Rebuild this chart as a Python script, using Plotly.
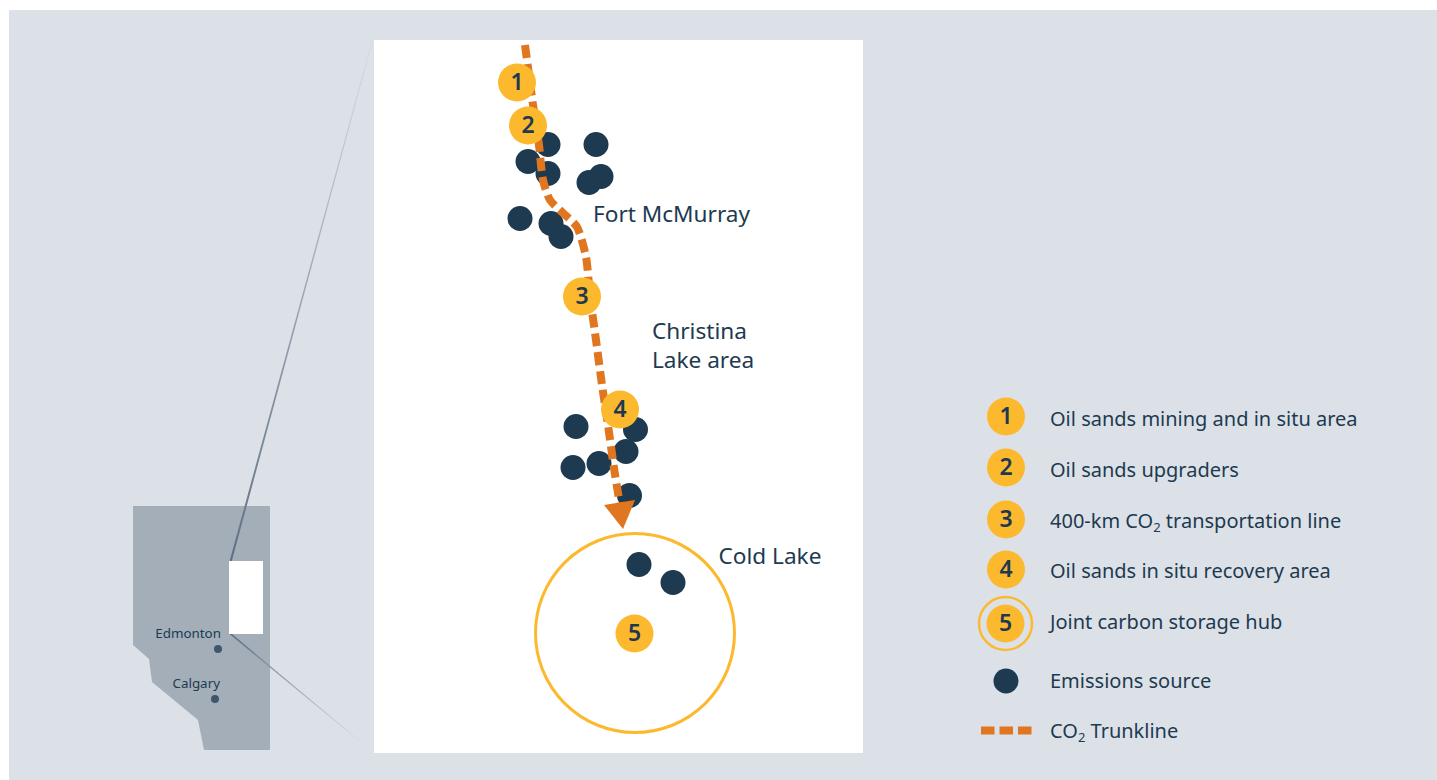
import plotly.graph_objects as go

INK = "#1d3a50"
AMBER = "#fdb92e"
ORANGE = "#e0761f"
BG = "#dce1e8"
MAPC = "#a3aeb9"

panel_x = [9, 1437, 1437, 9, 9]
panel_y = [10, 10, 780, 780, 10]
province_x = [133, 270, 270, 204, 198, 152, 149, 133, 133]
province_y = [506, 506, 750, 750, 720, 682, 659, 645, 506]
inset_x = [229, 263, 263, 229, 229]
inset_y = [561, 561, 634, 634, 561]
detail_x = [374, 863, 863, 374, 374]
detail_y = [40, 40, 753, 753, 40]
upper_conn_x = [229.6, 231.8, 373, 372, 229.6]
upper_conn_y = [561, 561, 40, 40, 561]
lower_conn_x = [229.5, 232, 366, 365, 229.5]
lower_conn_y = [634, 634, 746, 746, 634]

city_x = [218, 215]
city_y = [649, 699]
city_names = ["Edmonton", "Calgary"]
city_label_x = [221, 220]
city_label_y = [635, 685]

source_x = [548, 596, 528, 548, 601, 589, 520, 551, 561, 576, 635.5, 626, 599, 573, 629.5, 639, 673]
source_y = [144.5, 144.5, 161.5, 173.5, 176.5, 182.5, 218.5, 223.5, 236.5, 426.5, 429.5, 451.5, 463.5, 467.5, 495.5, 564.5, 582.5]

trunk_x = [525, 533, 539, 543, 550, 563, 577, 586, 590, 596, 602, 608, 614, 620]
trunk_y = [45, 105, 145, 180, 200, 213, 227, 257, 296, 340, 385, 425, 468, 505]
arrow_x = [604, 635, 623, 604]
arrow_y = [505, 500, 529, 505]

hub_x = [635]
hub_y = [633]

step_numbers = ["1", "2", "3", "4", "5"]
step_x = [517, 528, 582, 620, 634.5]
step_y = [82.5, 125.5, 296.5, 409.5, 633.5]
step_number_y = [84, 127, 298, 411, 635]

place_names = ["Fort McMurray", "Christina", "Lake area", "Cold Lake"]
place_x = [593, 652, 652, 718.5]
place_y = [216, 333, 362, 558]

SUB2 = '<sub><span style="font-size:13px">2</span></sub>'
legend_labels = [
    "Oil sands mining and in situ area",
    "Oil sands upgraders",
    "400-km CO" + SUB2 + " transportation line",
    "Oil sands in situ recovery area",
    "Joint carbon storage hub",
    "Emissions source",
    "CO" + SUB2 + " Trunkline",
]
legend_label_x = [1050] * 7
legend_label_y = [421, 472, 523, 573, 624, 683, 733]
legend_badge_x = [1006, 1006, 1006, 1006, 1005.5]
legend_badge_y = [416.5, 467.5, 519.5, 569.5, 623.5]
legend_number_y = [418, 469, 521, 571, 625]
legend_ring_x = [1005.5]
legend_ring_y = [623.5]
legend_dot_x = [1006]
legend_dot_y = [681]
legend_dash_x = [981, 1032]
legend_dash_y = [730.5, 730.5]

FONT = "Noto Sans"
fig = go.Figure()


def poly(x, y, color):
    fig.add_trace(go.Scatter(x=x, y=y, mode="lines", fill="toself", fillcolor=color,
                             line=dict(width=0), hoverinfo="skip"))


def fade(x, y, first, last):
    fig.add_trace(go.Scatter(
        x=x, y=y, mode="lines", fill="toself", line=dict(width=0), hoverinfo="skip",
        fillgradient=dict(type="vertical", colorscale=[[0, first], [1, last]])))


def text(x, y, labels, size, pos, weight=None, color=INK):
    fig.add_trace(go.Scatter(x=x, y=y, mode="text", text=labels, textposition=pos, hoverinfo="skip",
                             textfont=dict(family=FONT, size=size, color=color, weight=weight)))


poly(panel_x, panel_y, BG)
poly(province_x, province_y, MAPC)
fade(upper_conn_x, upper_conn_y, "#5f6f83", "#d6dce3")
fade(lower_conn_x, lower_conn_y, "#dce1e8", "#5f6f83")
poly(detail_x, detail_y, "#ffffff")
poly(inset_x, inset_y, "#ffffff")

fig.add_trace(go.Scatter(x=city_x, y=city_y, mode="markers", hoverinfo="skip",
                         marker=dict(size=8, color="#3f566b")))
text(city_label_x, city_label_y, city_names, 13.4, "middle left")

fig.add_trace(go.Scatter(x=hub_x, y=hub_y, mode="markers", hoverinfo="skip",
                         marker=dict(size=199, color="rgba(0,0,0,0)", line=dict(color=AMBER, width=3))))
fig.add_trace(go.Scatter(x=source_x, y=source_y, mode="markers", hoverinfo="skip",
                         marker=dict(size=25, color=INK)))
fig.add_trace(go.Scatter(x=trunk_x, y=trunk_y, mode="lines", hoverinfo="skip",
                         line=dict(color=ORANGE, width=8, dash="13px,6px", shape="spline", smoothing=0.7)))
poly(arrow_x, arrow_y, ORANGE)
fig.add_trace(go.Scatter(x=step_x, y=step_y, mode="markers", hoverinfo="skip",
                         marker=dict(size=38, color=AMBER)))
text(step_x, step_number_y, step_numbers, 23, "middle center", weight=600)
text(place_x, place_y, place_names, 22.6, "middle right")

fig.add_trace(go.Scatter(x=legend_ring_x, y=legend_ring_y, mode="markers", hoverinfo="skip",
                         marker=dict(size=53, color="rgba(0,0,0,0)", line=dict(color=AMBER, width=2.5))))
fig.add_trace(go.Scatter(x=legend_badge_x, y=legend_badge_y, mode="markers", hoverinfo="skip",
                         marker=dict(size=38, color=AMBER)))
text(legend_badge_x, legend_number_y, step_numbers, 23, "middle center", weight=600)
fig.add_trace(go.Scatter(x=legend_dot_x, y=legend_dot_y, mode="markers", hoverinfo="skip",
                         marker=dict(size=25, color=INK)))
fig.add_trace(go.Scatter(x=legend_dash_x, y=legend_dash_y, mode="lines", hoverinfo="skip",
                         line=dict(color=ORANGE, width=8, dash="13.5px,5px")))
text(legend_label_x, legend_label_y, legend_labels, 20, "middle right")

fig.update_layout(
    width=1437, height=780, margin=dict(l=0, r=0, t=0, b=0, pad=0),
    paper_bgcolor="#ffffff", plot_bgcolor="#ffffff", showlegend=False,
    xaxis=dict(range=[0, 1437], visible=False, fixedrange=True),
    yaxis=dict(range=[780, 0], visible=False, fixedrange=True),
)
fig.write_html("out.html", config=dict(displayModeBar=False),
               post_script="document.body.style.margin='0';document.body.style.overflow='hidden';")
